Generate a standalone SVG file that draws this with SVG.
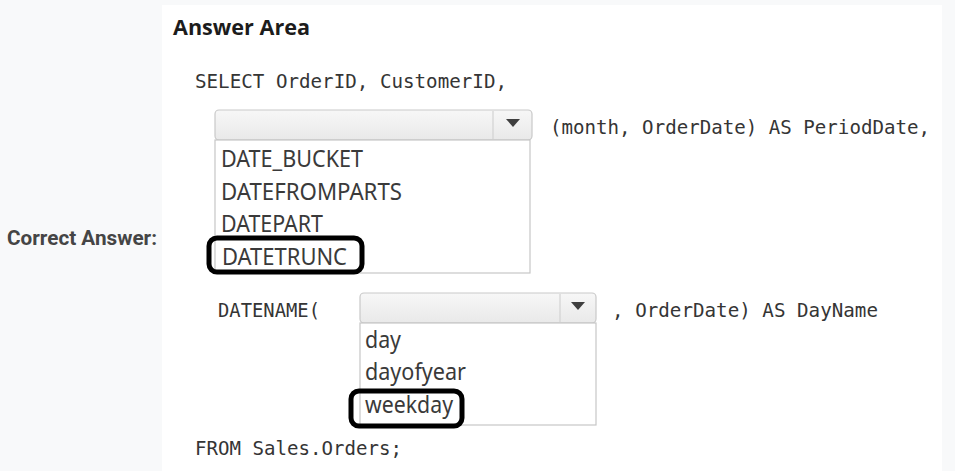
<svg xmlns="http://www.w3.org/2000/svg" width="955" height="471" viewBox="0 0 955 471">
  <defs>
    <linearGradient id="ddfill" x1="0" y1="0" x2="0" y2="1">
      <stop offset="0" stop-color="#f7f7f7"/>
      <stop offset="1" stop-color="#e9e9e9"/>
    </linearGradient>
    <style>
      .code { font-family: "DejaVu Sans Mono", "Liberation Mono", monospace; font-size: 19px; fill: #353535; }
      .item { font-family: "Noto Sans", "Open Sans", "Liberation Sans", sans-serif; font-size: 23.5px; fill: #3a3a3a; }
      .dd { fill: url(#ddfill); stroke: #c9c9c9; stroke-width: 1.2; }
      .sep { stroke: #d2d2d2; stroke-width: 1.2; }
      .arrow { fill: #3f3f3f; }
      .list { fill: #ffffff; stroke: #c6c6c6; stroke-width: 1.2; }
      .mark { fill: none; stroke: #000000; stroke-width: 5; }
    </style>
  </defs>

  <rect x="0" y="0" width="955" height="471" fill="#f8f9fa"/>
  <rect x="162" y="5" width="780" height="466" fill="#ffffff"/>

  <g id="correct-answer-label">
    <text x="7" y="245" font-family="Roboto, 'Liberation Sans', sans-serif" font-weight="bold" font-size="20.5" fill="#454545" textLength="150" lengthAdjust="spacingAndGlyphs">Correct Answer:</text>
  </g>

  <g id="title">
    <text x="173" y="35" font-family="'Open Sans', 'Liberation Sans', sans-serif" font-weight="bold" font-size="20.5" fill="#1c1c1c" textLength="137" lengthAdjust="spacingAndGlyphs">Answer Area</text>
  </g>

  <g id="select-line">
    <text class="code" x="195" y="88" textLength="312" lengthAdjust="spacingAndGlyphs">SELECT OrderID, CustomerID,</text>
  </g>

  <g id="dropdown1">
    <rect class="dd" x="215" y="110" width="317" height="30" rx="4"/>
    <line class="sep" x1="493" y1="111" x2="493" y2="139"/>
    <path class="arrow" d="M506,119 L520,119 L513,127 Z"/>
  </g>

  <g id="period-line">
    <text class="code" x="550" y="134" textLength="380" lengthAdjust="spacingAndGlyphs">(month, OrderDate) AS PeriodDate,</text>
  </g>

  <g id="list1">
    <rect class="list" x="215" y="140" width="315" height="133"/>
    <text class="item" x="221" y="167" textLength="142" lengthAdjust="spacingAndGlyphs">DATE_BUCKET</text>
    <text class="item" x="221" y="200" textLength="181" lengthAdjust="spacingAndGlyphs">DATEFROMPARTS</text>
    <text class="item" x="221" y="232" textLength="102" lengthAdjust="spacingAndGlyphs">DATEPART</text>
    <text class="item" x="222" y="265" textLength="125" lengthAdjust="spacingAndGlyphs">DATETRUNC</text>
    <rect class="mark" x="209" y="238" width="153" height="34" rx="8"/>
  </g>

  <g id="datename-line">
    <text class="code" x="218" y="317" textLength="102" lengthAdjust="spacingAndGlyphs">DATENAME(</text>
    <text class="code" x="612" y="317" textLength="266" lengthAdjust="spacingAndGlyphs">, OrderDate) AS DayName</text>
  </g>

  <g id="dropdown2">
    <rect class="dd" x="360" y="293" width="236" height="30" rx="4"/>
    <line class="sep" x1="560" y1="294" x2="560" y2="322"/>
    <path class="arrow" d="M571,302 L585,302 L578,310 Z"/>
  </g>

  <g id="list2">
    <rect class="list" x="360" y="323" width="236" height="102"/>
    <text class="item" x="365" y="348" textLength="36" lengthAdjust="spacingAndGlyphs">day</text>
    <text class="item" x="365" y="380" textLength="101" lengthAdjust="spacingAndGlyphs">dayofyear</text>
    <text class="item" x="365" y="413" textLength="88" lengthAdjust="spacingAndGlyphs">weekday</text>
    <rect class="mark" x="351" y="391" width="111" height="35" rx="8"/>
  </g>

  <g id="from-line">
    <text class="code" x="195" y="455" textLength="207" lengthAdjust="spacingAndGlyphs">FROM Sales.Orders;</text>
  </g>
</svg>
